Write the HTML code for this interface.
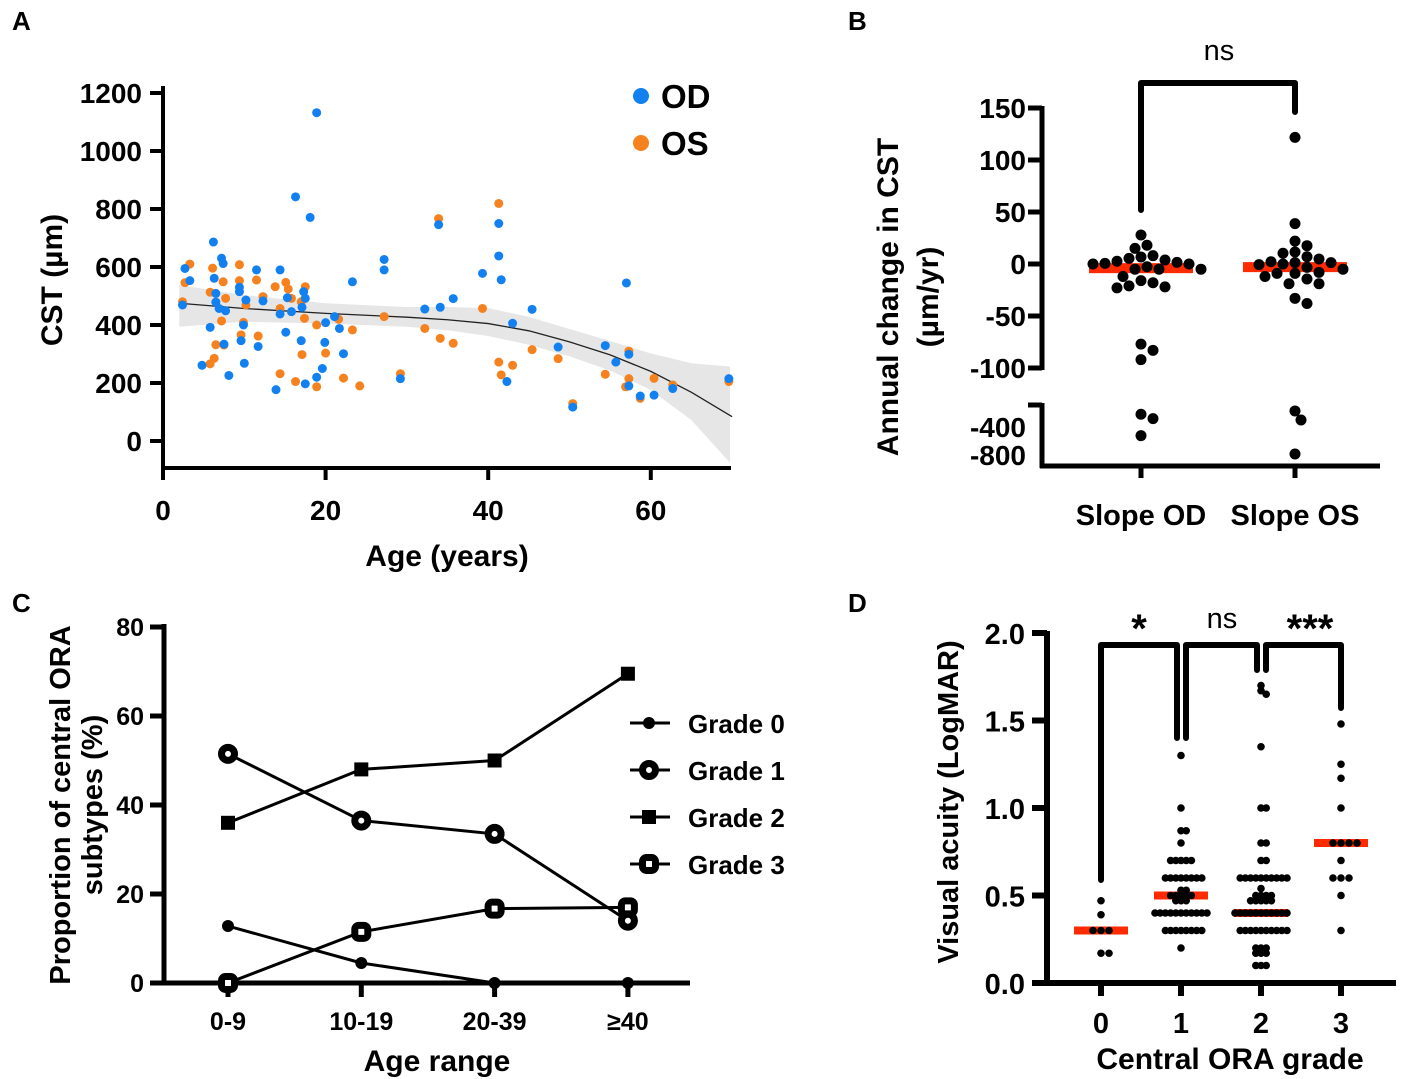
<!DOCTYPE html>
<html><head><meta charset="utf-8"><style>
html,body{margin:0;padding:0;background:#fff;}
svg{display:block;font-family:"Liberation Sans",Arial,sans-serif;font-weight:bold;}
</style></head><body>
<svg id="fig" width="1404" height="1079" viewBox="0 0 1404 1079" xmlns="http://www.w3.org/2000/svg">
<rect width="1404" height="1079" fill="#fff"/>
</svg>
<script>
// ---------- Panel A data ----------
const odAge=[18.9,16.3,18.1,6.2,7.2,7.4,2.7,3.3,6.3,11.5,14.4,9.4,9.4,6.5,10.2,12.3,15.3,17.3,17.5,17.1,15.8,14.4,6.5,6.9,7.7,2.4,5.8,9.9,15.1,17.0,19.9,9.6,7.5,11.7,22.2,4.8,10.0,8.1,13.9,17.5,18.9,19.6,20.0,21.1,21.7,23.3,27.2,27.2,29.2,32.2,34.1,33.9,35.7,39.3,41.3,41.3,41.6,43.0,42.3,45.4,48.6,50.4,54.4,55.7,57.0,57.3,57.3,58.7,60.4,62.7,69.6];
const odCST=[1132,842,771,686,630,612,595,553,561,590,590,530,515,509,486,483,494,515,492,461,446,438,479,457,449,469,392,400,375,346,340,346,334,326,301,261,268,226,177,197,220,250,408,429,388,549,626,590,215,455,461,746,491,578,750,638,556,406,205,454,324,117,329,272,545,299,190,155,158,181,215];
const osAge=[41.3,33.9,3.3,6.1,9.4,2.7,7.4,9.4,11.5,13.8,15.1,15.4,17.5,5.8,7.7,10.2,12.3,15.8,17.0,2.4,14.4,17.4,21.6,18.9,23.3,7.2,9.9,9.6,11.7,6.5,7.5,6.3,5.8,17.1,20.0,14.4,16.3,18.9,22.2,24.2,29.2,27.2,32.2,34.1,35.7,39.3,41.3,41.6,43.0,45.4,48.6,50.4,54.4,57.3,57.3,56.9,58.7,60.4,62.7,69.6];
const osCST=[819,767,610,596,608,546,549,553,555,532,547,524,532,513,492,469,498,492,480,480,457,423,420,400,383,414,409,366,362,332,331,285,266,298,303,232,205,187,217,190,232,429,388,354,337,457,272,228,261,315,284,129,230,310,215,187,147,216,193,205];
const fitAge=[2,10,20,30,35,40,45,50,55,60,65,70];
const fitCST=[475,457,440,427,418,405,380,342,297,240,168,84];
const bandHi=[538,503,475,462,462,458,428,386,345,302,268,256];
const bandLo=[394,411,405,394,382,362,332,292,243,176,72,-83];
const aXTicks=[0,20,40,60];
const aYTicks=[0,200,400,600,800,1000,1200];
// ---------- Panel B data ----------
const bCats=["Slope OD","Slope OS"];
const bOD=[27.9,15,18,2.6,3.8,0,0.6,5.4,6.7,8,1.6,-2.6,0,-5,-5,-5,-12,-16,-23,-22,-21,-18,-77,-83,-92,-342,-362,-524];
const bOS=[121.8,38.8,22,17.6,11.5,10.3,7,4.8,0,1.3,1.3,2.2,-0.6,-3.2,-8,-9,-9,-5,-14.4,-12,-19,-19,-33,-38,-327,-368,-786];
const bMedians=[-4,-3];
const bTicksUpper=[150,100,50,0,-50,-100];
const bTicksLower=[-400,-800];
// ---------- Panel C data ----------
const cCats=["0-9","10-19","20-39","≥40"];
const grade0=[12.8,4.5,0,0];
const grade1=[51.5,36.5,33.5,14];
const grade2=[36,48,50,69.5];
const grade3=[0,11.5,16.7,17];
const cYTicks=[0,20,40,60,80];
// ---------- Panel D data ----------
const dCats=["0","1","2","3"];
const dG0=[0.47,0.39,0.3,0.3,0.3,0.17,0.17];
const dG1=[1.3,1.0,0.87,0.87,0.8,0.7,0.7,0.7,0.7,0.7,0.6,0.6,0.6,0.6,0.6,0.6,0.6,0.6,0.53,0.53,0.5,0.5,0.5,0.5,0.5,0.47,0.47,0.47,0.4,0.4,0.4,0.4,0.4,0.4,0.4,0.4,0.4,0.4,0.4,0.3,0.3,0.3,0.3,0.3,0.3,0.3,0.3,0.2];
const dG2=[1.7,1.67,1.65,1.35,1.0,1.0,0.8,0.8,0.7,0.7,0.6,0.6,0.6,0.6,0.6,0.6,0.6,0.6,0.6,0.6,0.54,0.5,0.5,0.47,0.47,0.47,0.47,0.47,0.5,0.5,0.4,0.4,0.4,0.4,0.4,0.4,0.4,0.4,0.4,0.4,0.4,0.3,0.3,0.3,0.3,0.3,0.3,0.3,0.3,0.3,0.3,0.2,0.2,0.2,0.17,0.17,0.17,0.1,0.1,0.1];
const dG3=[1.48,1.25,1.17,1.0,0.8,0.8,0.8,0.8,0.7,0.6,0.6,0.6,0.5,0.3];
const dMedians=[0.3,0.5,0.4,0.8];
const dYTicks=[0,0.5,1.0,1.5,2.0];

const NS="http://www.w3.org/2000/svg";
const svg=document.getElementById('fig');
function mk(tag,attrs,parent){const e=document.createElementNS(NS,tag);for(const k in attrs)e.setAttribute(k,attrs[k]);(parent||svg).appendChild(e);return e;}
function grp(name){const g=mk('g',{});


return g;}
function txt(p,x,y,s,size,anchor,name,rot){const t=mk('text',{x:x,y:y,'font-size':size,'text-anchor':anchor||'middle',fill:'#000'},p);t.textContent=s;if(rot)t.setAttribute('transform','rotate(-90 '+x+' '+y+')');


return t;}
function line(p,x1,y1,x2,y2,w,name){const l=mk('line',{x1:x1,y1:y1,x2:x2,y2:y2,stroke:'#000','stroke-width':w},p);


return l;}
function swarm(vals,yf,cx,r,step,minD){const placed=[];const order=vals.map((v,i)=>i).sort((a,b)=>vals[b]-vals[a]);const out=new Array(vals.length);
 for(const i of order){const y=yf(vals[i]);let k=0;let x;
  while(true){const off=(k===0)?0:((k%2?1:-1)*Math.ceil(k/2)*step);x=cx+off;
   if(placed.every(p=>Math.hypot(p[0]-x,p[1]-y)>=minD))break;k++;if(k>80)break;}
  placed.push([x,y]);out[i]=[x,y];}
 return out;}

// panel letters
[['A',12,30],['B',848,30],['C',12,612],['D',848,612]].forEach(l=>{txt(svg,l[1],l[2],l[0],26,'start','panel-label-'+l[0].toLowerCase());});

// ================= Panel A =================
(function(){
const g=grp('panel-a-scatter');
const xA=a=>163+a*8.13, yA=v=>441-v*0.29;
const clip=mk('clipPath',{id:'clipA'},g);mk('rect',{x:163,y:85,width:567,height:383},clip);
const band=mk('path',{fill:'#e6e6e6','clip-path':'url(#clipA)',d:'M'+fitAge.map((a,i)=>xA(a)+','+yA(bandHi[i])).join('L')+'L'+fitAge.slice().reverse().map((a,j)=>xA(a)+','+yA(bandLo[fitAge.length-1-j])).join('L')+'Z'},g);


const fit=mk('path',{fill:'none',stroke:'#222','stroke-width':1.3,d:'M'+fitAge.map((a,i)=>xA(a)+','+yA(fitCST[i])).join('L')},g);


osAge.forEach((a,i)=>{const c=mk('circle',{cx:xA(a),cy:yA(osCST[i]),r:4.5,fill:'#f5821f'},g);

});
odAge.forEach((a,i)=>{const c=mk('circle',{cx:xA(a),cy:yA(odCST[i]),r:4.5,fill:'#1380f0'},g);

});
line(g,163,86,163,470,4,'y-axis');line(g,161,468,731,468,4,'x-axis');
aYTicks.forEach(v=>{line(g,150,yA(v),163,yA(v),4,'y-tick');txt(g,142,yA(v)+10,String(v),28,'end','y-tick-label');});
aXTicks.forEach(v=>{line(g,xA(v),468,xA(v),480,4,'x-tick');txt(g,xA(v),520,String(v),28,'middle','x-tick-label');});
txt(g,447,566,'Age (years)',30,'middle','x-axis-title');
txt(g,62,280,'CST (µm)',30,'middle','y-axis-title',true);
const l1=mk('circle',{cx:641,cy:96,r:8,fill:'#1380f0'},g);


txt(g,661,108,'OD',33,'start','legend-od-label');
const l2=mk('circle',{cx:641,cy:143,r:8,fill:'#f5821f'},g);


txt(g,661,155,'OS',33,'start','legend-os-label');
})();

// ================= Panel B =================
(function(){
const g=grp('panel-b-dotplot');
const yB=v=>{if(v>=-100)return 264-v*1.04;if(v>=-400)return 405+(-300-v)*0.22;return 427+(-400-v)*0.07;};
const xB=i=>1141+i*154;
line(g,1042,106,1042,370,5,'y-axis-upper');line(g,1042,403,1042,468,5,'y-axis-lower');
line(g,1040,466,1380,466,5,'x-axis');
bTicksUpper.forEach(v=>{line(g,1028,yB(v),1042,yB(v),5,'y-tick');txt(g,1026,yB(v)+10,String(v),28,'end','y-tick-label');});
line(g,1028,405,1042,405,5,'y-tick-break');
bTicksLower.forEach(v=>{txt(g,1026,yB(v)+10,String(v),28,'end','y-tick-label');});
bCats.forEach((c,i)=>{line(g,xB(i),466,xB(i),478,5,'x-tick');txt(g,xB(i),525,c,29,'middle','x-tick-label');});
[bOD,bOS].forEach((arr,i)=>{
 const m=mk('rect',{x:xB(i)-52,y:yB(bMedians[i])-5,width:104,height:10,fill:'#ff2a00'},g);
 
 
 swarm(arr,yB,xB(i),5.5,6,10.5).forEach(p=>{const c=mk('circle',{cx:p[0],cy:p[1],r:5.5,fill:'#000'},g);
 
 });
});
const br=mk('path',{d:'M'+xB(0)+',210 V83 H'+xB(1)+' V112',fill:'none',stroke:'#000','stroke-width':6,'stroke-linejoin':'round','stroke-linecap':'round'},g);


txt(g,1219,60,'ns',29,'middle','significance-label').setAttribute('font-weight','normal');
txt(g,898,297,'Annual change in CST',30,'middle','y-axis-title-line1',true);
txt(g,938,297,'(µm/yr)',30,'middle','y-axis-title-line2',true);
})();

// ================= Panel C =================
(function(){
const g=grp('panel-c-lines');
const xC=i=>228+i*133.3, yC=v=>983-v*4.45;
line(g,164,624,164,985,5,'y-axis');line(g,162,983,690,983,5,'x-axis');
cYTicks.forEach(v=>{line(g,150,yC(v),164,yC(v),5,'y-tick');txt(g,144,yC(v)+9,String(v),25,'end','y-tick-label');});
cCats.forEach((c,i)=>{line(g,xC(i),983,xC(i),997,5,'x-tick');txt(g,xC(i),1030,c,25,'middle','x-tick-label');});
function marker(type,x,y,name){let e;
 if(type===0)e=mk('circle',{cx:x,cy:y,r:6,fill:'#000'},g);
 else if(type===1){e=mk('circle',{cx:x,cy:y,r:6.5,fill:'#fff',stroke:'#000','stroke-width':7},g);}
 else if(type===2)e=mk('rect',{x:x-7,y:y-7,width:14,height:14,fill:'#000'},g);
 else e=mk('rect',{x:x-6.5,y:y-6.5,width:13,height:13,rx:4,fill:'#fff',stroke:'#000','stroke-width':7},g);
 
 }
[grade0,grade1,grade2,grade3].forEach((arr,k)=>{
 const p=mk('polyline',{points:arr.map((v,i)=>xC(i)+','+yC(v)).join(' '),fill:'none',stroke:'#000','stroke-width':3},g);
 
 
 arr.forEach((v,i)=>marker(k,xC(i),yC(v),'grade-'+k+'-point'));
});
['Grade 0','Grade 1','Grade 2','Grade 3'].forEach((s,k)=>{const y=723+k*47;line(g,630,y,670,y,3,'legend-line');marker(k,649,y,'legend-marker');txt(g,688,y+10,s,26,'start','legend-label');});
txt(g,437,1071,'Age range',30,'middle','x-axis-title');
txt(g,70,805,'Proportion of central ORA',29,'middle','y-axis-title-line1',true);
txt(g,102,805,'subtypes (%)',29,'middle','y-axis-title-line2',true);
})();

// ================= Panel D =================
(function(){
const g=grp('panel-d-dotplot');
const xD=i=>1101+i*80, yD=v=>983-v*175;
line(g,1047,631,1047,985,6,'y-axis');line(g,1032,983,1396,983,6,'x-axis');
dYTicks.forEach(v=>{line(g,1032,yD(v),1047,yD(v),6,'y-tick');txt(g,1025,yD(v)+11,v.toFixed(1),29,'end','y-tick-label');});
dCats.forEach((c,i)=>{line(g,xD(i),983,xD(i),996,6,'x-tick');txt(g,xD(i),1033,c,29,'middle','x-tick-label');});
[dG0,dG1,dG2,dG3].forEach((arr,i)=>{
 const m=mk('rect',{x:xD(i)-27,y:yD(dMedians[i])-4,width:54,height:8,fill:'#ff2a00'},g);
 
 
 const step=(arr.length>20)?5.2:8;
 swarm(arr,yD,xD(i),3.8,step,step*0.99).forEach(p=>{const c=mk('circle',{cx:p[0],cy:p[1],r:3.8,fill:'#000'},g);
 
 });
});
const brs=[[xD(0),880,xD(1)-4,738],[xD(1)+5,738,xD(2)-4,670],[xD(2)+5,670,xD(3),708]];
brs.forEach(b=>{const p=mk('path',{d:'M'+b[0]+','+b[1]+' V645 H'+b[2]+' V'+b[3],fill:'none',stroke:'#000','stroke-width':6,'stroke-linejoin':'round','stroke-linecap':'round'},g);

});
txt(g,1139,642,'*',40,'middle','significance-star');
txt(g,1222,628,'ns',29,'middle','significance-ns').setAttribute('font-weight','normal');
txt(g,1310,642,'***',40,'middle','significance-stars');
txt(g,1230,1069,'Central ORA grade',30,'middle','x-axis-title');
txt(g,958,802,'Visual acuity (LogMAR)',29,'middle','y-axis-title',true);
})();
</script>
</body></html>
